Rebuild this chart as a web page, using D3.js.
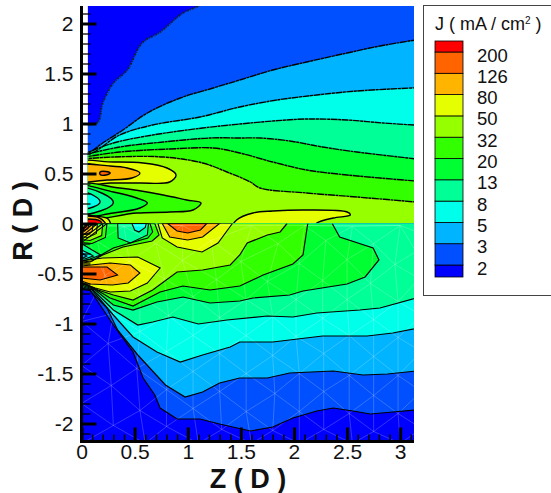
<!DOCTYPE html>
<html><head><meta charset="utf-8">
<script src="https://cdn.jsdelivr.net/npm/d3@7/dist/d3.min.js"></script>
<style>html,body{margin:0;padding:0;background:#fff;overflow:hidden}svg{display:block}text{font-family:"Liberation Sans",Arial,sans-serif;fill:#111}</style>
</head><body><svg id="c" width="551" height="493"></svg>
<script>
const xMajor=[0,0.5,1,1.5,2,2.5,3];
const xMinor=[0.1,0.2,0.3,0.4,0.6,0.7,0.8,0.9,1.1,1.2,1.3,1.4,1.6,1.7,1.8,1.9,2.1,2.2,2.3,2.4,2.6,2.7,2.8,2.9,3.1];
const yMajor=[2,1.5,1,0.5,0,-0.5,-1,-1.5,-2];
const yMinor=[2.1,1.9,1.8,1.7,1.6,1.4,1.3,1.2,1.1,0.9,0.8,0.7,0.6,0.4,0.3,0.2,0.1,-0.1,-0.2,-0.3,-0.4,-0.6,-0.7,-0.8,-0.9,-1.1,-1.2,-1.3,-1.4,-1.6,-1.7,-1.8,-1.9,-2.1];
const levels=["2","3","5","8","13","20","32","50","80","126","200"];
const bandColors=["#0000ff","#0050ff","#00b4ff","#00ffea","#00ff96","#00ff32","#32ff00","#96ff00","#e6ff00","#ffb400","#ff6400","#ff0000"];

// upper half: contour curves, lowest level first [Z, R]
const up3=[[0,0.985],[0.06,0.985],[0.155,1.015],[0.20,1.205],[0.30,1.405],[0.43,1.535],[0.57,1.805],[0.74,1.915],[0.955,2.105],[1.13,2.195],[1.2,2.3]];
const up5=[[0,0.70],[0.08,0.715],[0.20,0.805],[0.39,0.935],[0.62,1.105],[0.93,1.255],[1.24,1.355],[1.49,1.435],[1.80,1.535],[2.12,1.615],[2.50,1.705],[2.81,1.775],[3.2,1.845]];
const up8=[[0,0.69],[0.10,0.705],[0.36,0.885],[0.67,0.985],[1.115,1.065],[1.49,1.165],[1.84,1.235],[2.215,1.285],[2.59,1.325],[3.2,1.36]];
const up13=[[0,0.685],[0.30,0.805],[0.67,0.885],[1.14,0.955],[1.49,0.995],[1.80,1.025],[2.12,1.045],[2.50,1.035],[2.84,1.005],[3.2,0.98]];
const up20=[[0,0.68],[0.36,0.765],[0.77,0.815],[1.21,0.855],[1.49,0.855],[1.68,0.855],[1.96,0.825],[2.27,0.765],[2.59,0.715],[3.2,0.64]];
const up32=[[0,0.66],[0.36,0.715],[0.83,0.745],[1.24,0.755],[1.49,0.705],[1.80,0.615],[2.12,0.535],[2.50,0.485],[3.2,0.42]];
const up50=[[0,0.645],[0.30,0.665],[0.77,0.665],[1.14,0.605],[1.37,0.515],[1.59,0.415],[1.68,0.355],[2.12,0.305],[2.59,0.265],[3.2,0.21]];
// upper half: closed lobes
const upLobes=[
 {c:8,p:[[-0.1,0.605],[0.30,0.615],[0.58,0.605],[0.805,0.555],[0.89,0.485],[0.83,0.415],[0.55,0.405],[0.27,0.405],[-0.1,0.395]]},
 {c:9,p:[[-0.1,0.575],[0.27,0.575],[0.43,0.555],[0.55,0.505],[0.475,0.455],[0.24,0.435],[-0.1,0.425]]},
 {c:10,p:[[0.175,0.515],[0.23,0.52],[0.27,0.505],[0.23,0.485],[0.175,0.49]]},
 {c:6,p:[[-0.1,0.385],[0.36,0.355],[0.77,0.285],[0.99,0.235],[1.125,0.205],[1.05,0.135],[0.83,0.115],[0.52,0.105],[-0.1,0.055]]},
 {c:5,p:[[-0.1,0.375],[0.30,0.315],[0.52,0.255],[0.62,0.205],[0.55,0.155],[0.30,0.105],[-0.1,0.075]]},
 {c:4,p:[[-0.1,0.36],[0.20,0.30],[0.30,0.21],[0.19,0.13],[-0.1,0.10]]},
 {c:3,p:[[-0.1,0.335],[0.13,0.27],[0.175,0.215],[0.11,0.165],[-0.1,0.15]]},
 {c:8,p:[[1.43,-0.02],[1.46,0.035],[1.615,0.105],[1.80,0.125],[2.12,0.135],[2.50,0.115],[2.53,0.085],[2.37,0.055],[2.215,0.005],[2.2,-0.02]]},
 {c:8,p:[[-0.1,0.065],[0.17,0.07],[0.25,0.045],[0.27,-0.02],[-0.1,-0.02]]},
 {c:9,p:[[-0.1,0.05],[0.17,0.055],[0.23,-0.02],[-0.1,-0.02]]},
 {c:11,p:[[-0.1,0.025],[0.175,0.025],[0.19,-0.02],[-0.1,-0.02]]}
];

// lower half: contour curves
const lo3=[[0,-0.655],[0.08,-0.665],[0.30,-1.015],[0.485,-1.285],[0.58,-1.545],[0.69,-1.715],[0.74,-1.845],[0.90,-1.955],[1.115,-1.955],[1.30,-2.005],[1.59,-2.075],[1.80,-2.035],[1.99,-1.945],[2.215,-1.875],[2.37,-1.845],[2.555,-1.875],[2.72,-1.905],[2.93,-1.885],[3.2,-1.86]];
const lo5=[[0,-0.66],[0.08,-0.67],[0.24,-0.845],[0.34,-1.065],[0.53,-1.315],[0.79,-1.615],[0.975,-1.735],[1.14,-1.685],[1.30,-1.595],[1.49,-1.545],[1.75,-1.545],[1.96,-1.495],[2.37,-1.475],[2.65,-1.515],[2.88,-1.505],[3.2,-1.47]];
const lo8=[[0,-0.645],[0.10,-0.665],[0.30,-0.915],[0.485,-1.135],[0.71,-1.285],[0.93,-1.385],[1.14,-1.315],[1.40,-1.235],[1.49,-1.185],[1.80,-1.185],[2.27,-1.125],[2.69,-1.125],[2.93,-1.095],[3.2,-1.04]];
const lo13=[[0,-0.63],[0.11,-0.665],[0.30,-0.865],[0.53,-1.015],[0.67,-0.985],[0.86,-0.935],[1.10,-1.005],[1.37,-0.965],[1.75,-0.925],[1.99,-0.935],[2.215,-0.895],[2.62,-0.865],[2.81,-0.845],[3.2,-0.73]];
const lo20=[[0,-0.615],[0.13,-0.665],[0.30,-0.815],[0.485,-0.865],[0.71,-0.785],[0.955,-0.735],[1.21,-0.795],[1.49,-0.775],[1.615,-0.745],[1.96,-0.715],[2.085,-0.675],[2.50,-0.605],[2.67,-0.535],[2.80,-0.365],[2.745,-0.245],[2.43,-0.135],[2.36,0]];
const lo32=[[0,-0.60],[0.145,-0.665],[0.27,-0.745],[0.485,-0.825],[0.74,-0.685],[0.955,-0.625],[1.21,-0.665],[1.49,-0.625],[1.71,-0.515],[1.99,-0.405],[2.085,-0.315],[2.13,0]];
const lo50=[[0,-0.585],[0.155,-0.665],[0.30,-0.715],[0.485,-0.765],[0.67,-0.665],[0.90,-0.485],[1.14,-0.465],[1.40,-0.415],[1.49,-0.315],[1.56,-0.195],[1.75,-0.115],[1.87,-0.085],[1.935,0]];
const loLobes=[
 {c:6,p:[[0.69,0],[0.73,-0.115],[0.665,-0.175],[0.39,-0.235],[0.20,-0.315],[0.08,-0.385],[0,-0.395],[0,0]]},
 {c:5,p:[[0.645,0],[0.67,-0.085],[0.625,-0.145],[0.46,-0.195],[0.30,-0.245],[0.20,-0.305],[0.10,-0.375],[0,-0.385],[0,0]]},
 {c:4,p:[[0.34,0],[0.345,-0.145],[0.46,-0.195],[0.62,-0.115],[0.63,0]]},
 {c:3,p:[[0.475,0],[0.50,-0.065],[0.54,-0.085],[0.60,-0.04],[0.61,0]]},
 {c:4,p:[[0,-0.20],[0.10,-0.265],[0.18,-0.315],[0.08,-0.355],[0,-0.375]]},
 {c:3,p:[[0,-0.265],[0.08,-0.305],[0.11,-0.325],[0.03,-0.355],[0,-0.355]]},
 {c:2,p:[[0,-0.295],[0.05,-0.325],[0,-0.355]]},
 {c:6,p:[[0.24,0],[0.225,-0.14],[0.10,-0.20],[0,-0.19]]},
 {c:7,p:[[0.20,0],[0.19,-0.12],[0.08,-0.17],[0,-0.16]]},
 {c:8,p:[[0.15,0],[0.14,-0.10],[0.06,-0.14],[0,-0.13]]},
 {c:9,p:[[0.11,0],[0.10,-0.08],[0.04,-0.11],[0,-0.10]]},
 {c:10,p:[[0.07,0],[0.06,-0.05],[0,-0.08]]},
 {c:11,p:[[0.05,0],[0.045,-0.035],[0,-0.06]]},
 {c:8,p:[[0,-0.375],[0.20,-0.345],[0.53,-0.335],[0.74,-0.445],[0.62,-0.595],[0.46,-0.675],[0.27,-0.685],[0.13,-0.645],[0,-0.595]]},
 {c:9,p:[[0,-0.425],[0.27,-0.395],[0.46,-0.415],[0.55,-0.495],[0.44,-0.595],[0.29,-0.615],[0.08,-0.605],[0,-0.575]]},
 {c:10,p:[[0,-0.435],[0.24,-0.435],[0.34,-0.515],[0.175,-0.565],[0,-0.545]]},
 {c:8,p:[[0.72,0],[0.76,-0.145],[0.90,-0.235],[1.135,-0.285],[1.285,-0.195],[1.42,0]]},
 {c:9,p:[[0.76,0],[0.83,-0.135],[1.0,-0.165],[1.14,-0.135],[1.30,0]]},
 {c:10,p:[[0.81,0],[0.90,-0.075],[1.0,-0.095],[1.12,-0.065],[1.18,0]]}
];
// lower half: mesh nodes
const meshNodes=[
[0,-0.02],[0.4,-0.03],[0.95,-0.02],[1.6,-0.02],[2.1,-0.02],[2.55,-0.03],[3.0,-0.02],[3.2,-0.1],
[0.15,-0.18],[0.7,-0.2],[1.22,-0.17],[1.85,-0.2],[2.3,-0.17],[2.75,-0.2],[3.15,-0.28],
[0.45,-0.38],[0.95,-0.37],[1.5,-0.38],[2.05,-0.4],[2.5,-0.36],[2.95,-0.41],
[0.22,-0.52],[0.78,-0.55],[1.27,-0.56],[1.75,-0.58],[2.27,-0.57],[2.72,-0.6],[3.18,-0.55],
[0.55,-0.72],[1.05,-0.73],[1.55,-0.76],[2.02,-0.76],[2.5,-0.76],[2.98,-0.78],
[0.3,-0.9],[0.82,-0.92],[1.3,-0.94],[1.8,-0.93],[2.27,-0.95],[2.75,-0.96],[3.2,-0.92],
[0,-0.98],[0.55,-1.08],[1.05,-1.12],[1.55,-1.12],[2.02,-1.13],[2.52,-1.12],[2.98,-1.14],
[0.25,-1.2],[0.8,-1.28],[1.3,-1.3],[1.8,-1.32],[2.28,-1.3],[2.75,-1.33],[3.2,-1.28],
[0,-1.42],[0.52,-1.45],[1.05,-1.48],[1.55,-1.5],[2.05,-1.5],[2.52,-1.52],[2.98,-1.52],
[0.28,-1.62],[0.8,-1.66],[1.3,-1.68],[1.82,-1.7],[2.28,-1.68],[2.75,-1.72],[3.2,-1.68],
[0,-1.8],[0.55,-1.87],[1.05,-1.85],[1.55,-1.88],[2.05,-1.88],[2.52,-1.9],[2.98,-1.9],
[0.3,-2.02],[0.8,-2.03],[1.32,-2.06],[1.8,-2.07],[2.28,-2.06],[2.75,-2.08],[3.2,-2.05],
[0,-2.2],[0.6,-2.2],[1.1,-2.2],[1.6,-2.2],[2.05,-2.2],[2.55,-2.2],[3.0,-2.2]
];

const svg=d3.select("#c");
const x=d3.scaleLinear().domain([0,3.13]).range([81.5,414]);
const y=d3.scaleLinear().domain([2.175,-2.18]).range([6,441.5]);
const line=d3.line().x(d=>x(d[0])).y(d=>y(d[1]));
const smooth=d3.line().x(d=>x(d[0])).y(d=>y(d[1])).curve(d3.curveCatmullRom.alpha(0.5));
const smoothClosed=d3.line().x(d=>x(d[0])).y(d=>y(d[1])).curve(d3.curveCatmullRomClosed.alpha(0.5));
const defs=svg.append("defs");
defs.append("clipPath").attr("id","cu").append("rect")
 .attr("x",x(0.06)).attr("y",y(2.175)).attr("width",x(3.13)-x(0.06)).attr("height",y(0)-y(2.175));
defs.append("clipPath").attr("id","cl").append("rect")
 .attr("x",x(0)).attr("y",y(0)).attr("width",x(3.13)-x(0)).attr("height",y(-2.18)-y(0));

const upper=svg.append("g").attr("clip-path","url(#cu)");
const lower=svg.append("g").attr("clip-path","url(#cl)");
function area(g,pts,ci){g.append("path").attr("d",line(pts)+"Z").attr("fill",bandColors[ci]);}
function stroke(g,pts,closed,w,dash){const p=g.append("path").attr("d",line(pts)+(closed?"Z":"")).attr("fill","none").attr("stroke","#000").attr("stroke-width",w);if(dash)p.attr("stroke-dasharray",dash);}

// upper fills
upper.append("rect").attr("x",x(0)).attr("y",y(2.175)).attr("width",x(3.13)-x(0)).attr("height",y(0)-y(2.175)).attr("fill",bandColors[0]);
[up3,up5,up8,up13,up20,up32,up50].forEach((c,i)=>{
 const tail=i==0?[[3.2,2.3],[3.2,-0.02],[0,-0.02]]:[[3.2,-0.02],[0,-0.02]];
 upper.append("path").attr("d",smooth(c)+line(tail).replace("M","L")+"Z").attr("fill",bandColors[i+1]);
});
upLobes.forEach(l=>upper.append("path").attr("d",smoothClosed(l.p)).attr("fill",bandColors[l.c]).attr("stroke","#000").attr("stroke-width",1.4));
upper.append("path").attr("d",smooth(up3)).attr("fill","none").attr("stroke","#123").attr("stroke-width",2).attr("stroke-dasharray","2 1 1 1");
[up5,up8,up13,up20,up32,up50].forEach(c=>upper.append("path").attr("d",smooth(c)).attr("fill","none").attr("stroke","#000").attr("stroke-width",1.4).attr("stroke-dasharray","7 0.5 3 0.5"));

// lower fills
lower.append("rect").attr("x",x(0)).attr("y",y(0)).attr("width",x(3.13)-x(0)).attr("height",y(-2.18)-y(0)).attr("fill",bandColors[0]);
[lo3,lo5,lo8,lo13,lo20,lo32,lo50].forEach((c,i)=>{
 const tail=c[c.length-1][1]===0?[[0,0]]:[[3.2,0],[0,0]];
 area(lower,c.concat(tail),i+1);
});
loLobes.forEach(l=>area(lower,l.p,l.c));
// triangular mesh
const del=d3.Delaunay.from(meshNodes,d=>x(d[0]),d=>y(d[1]));
lower.append("path").attr("d",del.render()).attr("fill","none").attr("stroke","#fff").attr("stroke-opacity",0.2).attr("stroke-width",1);
[lo3,lo5,lo8,lo13,lo20,lo32,lo50].forEach(c=>stroke(lower,c,false,1.2));
loLobes.forEach(l=>stroke(lower,l.p,true,1.1));

// axes
const fmt=d=>String(d);
function styleAxis(g,w){g.selectAll("line").attr("stroke","#000").attr("stroke-width",w);g.selectAll(".domain").remove();g.selectAll("text").attr("font-size",21).attr("fill","#111");}
const ax=svg.append("g");
ax.append("g").attr("transform",`translate(0,${y(-2.18)})`)
 .call(d3.axisBottom(x).tickValues(xMinor).tickSize(-7).tickFormat("")).call(g=>styleAxis(g,1.5));
ax.append("g").attr("transform",`translate(${x(0)},0)`)
 .call(d3.axisLeft(y).tickValues(yMinor).tickSize(-9).tickFormat("")).call(g=>styleAxis(g,1.3));
ax.append("g").attr("transform",`translate(0,${y(-2.18)})`)
 .call(d3.axisBottom(x).tickValues(xMajor).tickSize(-14).tickPadding(3).tickFormat(fmt)).call(g=>styleAxis(g,3));
ax.append("g").attr("transform",`translate(${x(0)},0)`)
 .call(d3.axisLeft(y).tickValues(yMajor).tickSize(-15).tickPadding(8).tickFormat(fmt)).call(g=>styleAxis(g,3));
ax.append("path").attr("d",d3.line()([[x(0),y(2.175)],[x(0),y(-2.18)],[x(3.13),y(-2.18)]])).attr("fill","none").attr("stroke","#000").attr("stroke-width",3);

svg.append("text").attr("x",248).attr("y",488).attr("text-anchor","middle").attr("font-size",27).attr("font-weight","bold").text("Z ( D )");
svg.append("text").attr("transform","translate(32,221) rotate(-90)").attr("text-anchor","middle").attr("font-size",27).attr("font-weight","bold").text("R ( D )");

// legend
svg.append("rect").attr("x",423.5).attr("y",5.5).attr("width",140).attr("height",290).attr("fill","#fff").attr("stroke","#444").attr("stroke-width",1);
const t=svg.append("text").attr("x",435).attr("y",30).attr("font-size",18);
t.append("tspan").text("J ( mA / cm");
t.append("tspan").attr("font-size",10).attr("dy",-6).text("2");
t.append("tspan").attr("dy",6).text(" )");
const ly=d3.scaleLinear().domain([0,10]).range([265,52]);
const lx=435;
const edges=[277].concat(levels.map((_,i)=>ly(i)),[41]);
bandColors.forEach((c,i)=>{
 svg.append("rect").attr("x",lx).attr("y",edges[i+1]).attr("width",28).attr("height",edges[i]-edges[i+1]).attr("fill",c).attr("stroke","#000").attr("stroke-width",0.8);
});
svg.selectAll(".ll").data(levels).enter().append("text").attr("class","ll")
 .attr("x",477).attr("y",(d,i)=>ly(i)+9.5).attr("font-size",18.5).text(d=>d);
</script></body></html>
